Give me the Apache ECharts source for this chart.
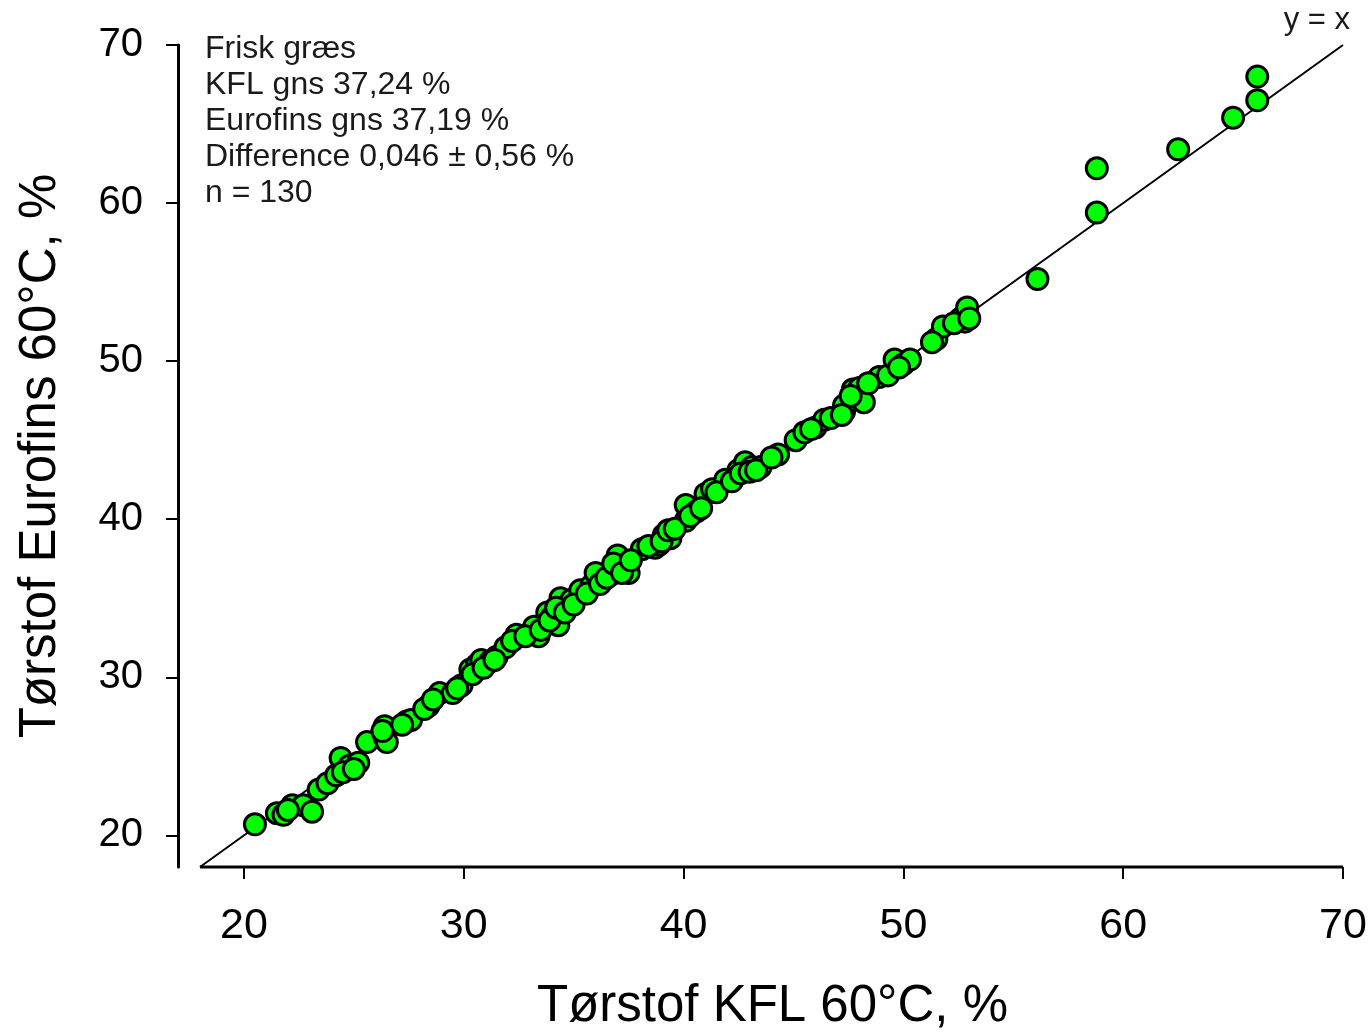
<!DOCTYPE html>
<html>
<head>
<meta charset="utf-8">
<script src="https://cdn.jsdelivr.net/npm/echarts@6/dist/echarts.min.js"></script>
<style>
  html, body { margin: 0; padding: 0; background: #fff; }
  #chart { width: 1370px; height: 1034px; }
</style>
</head>
<body>
<div id="chart"></div>
<script>
// Data: dry matter, KFL (x) vs Eurofins (y), fresh grass
var kfl = [
  20.5, 21.5, 21.8, 22.2, 22.7, 23.1, 23.4, 23.8, 24.2, 24.4,
  24.8, 25.2, 25.6, 26.4, 26.4, 26.5, 27.4, 27.6, 28.4, 28.9,
  29.5, 29.9, 30.3, 30.6, 30.8, 31.2, 31.5, 31.9, 32.4, 33.2,
  33.4, 33.8, 34.0, 34.3, 34.4, 34.9, 35.3, 35.8, 36.0, 36.7,
  37.0, 37.3, 37.5, 38.1, 38.7, 38.9, 39.1, 39.4, 40.1, 40.1,
  40.6, 41.0, 41.3, 41.9, 42.5, 42.8, 43.1, 43.5, 44.3, 45.1,
  45.5, 46.0, 46.4, 47.3, 47.3, 47.7, 48.0, 48.2, 48.9, 49.3,
  49.6, 50.0, 50.3, 51.5, 51.8, 52.6, 52.8, 52.9, 56.1, 58.8,
  58.8, 62.5, 65.0, 66.1, 66.1,
  22.0, 24.5, 25.0, 26.3, 27.2, 28.2, 28.6, 29.7, 30.4, 30.9,
  31.4, 32.2, 32.8, 33.5, 33.9, 34.2, 34.6, 35.0, 35.6, 36.2,
  36.5, 36.8, 37.2, 37.6, 38.4, 39.0, 39.3, 39.6, 40.3, 40.8,
  41.5, 42.2, 42.6, 43.0, 43.3, 44.0, 45.8, 46.7, 47.2, 47.6,
  48.4, 49.8, 51.3, 52.3, 53.0
];
var eurofins = [
  20.7, 21.4, 21.3, 21.9, 21.9, 21.5, 22.9, 23.3, 23.8, 24.9,
  24.4, 24.6, 25.9, 26.2, 26.9, 25.9, 27.2, 27.3, 28.2, 29.0,
  29.0, 29.5, 30.5, 30.8, 31.1, 31.0, 31.3, 31.9, 32.7, 33.2,
  32.6, 34.1, 33.8, 33.3, 35.0, 34.9, 35.5, 35.8, 36.6, 36.5,
  37.7, 37.1, 36.6, 38.1, 38.2, 38.4, 39.0, 38.8, 39.9, 40.9,
  40.5, 41.6, 41.9, 42.5, 43.1, 43.6, 43.3, 43.3, 44.1, 45.0,
  45.5, 45.8, 46.3, 46.8, 47.2, 48.2, 48.3, 47.4, 49.0, 49.1,
  50.1, 49.8, 50.1, 51.4, 52.2, 52.7, 52.5, 53.4, 55.2, 59.4,
  62.2, 63.4, 65.4, 66.5, 68.0,
  21.6, 24.0, 24.2, 26.6, 27.0, 28.0, 28.6, 29.3, 30.2, 30.6,
  31.1, 32.3, 32.6, 33.0, 33.6, 34.4, 34.1, 34.6, 35.3, 35.9,
  36.3, 37.2, 36.6, 37.4, 38.3, 38.6, 39.3, 39.4, 40.2, 40.7,
  41.7, 42.4, 42.9, 43.0, 43.1, 43.9, 45.7, 46.4, 46.6, 47.8,
  48.6, 49.6, 51.2, 52.4, 52.7
];
var tickValues = [20, 30, 40, 50, 60, 70];
var xRange = [17, 70];
var yRange = [18, 70];
var notes = [
  'Frisk græs',
  'KFL gns 37,24 %',
  'Eurofins gns 37,19 %',
  'Difference 0,046 ± 0,56 %',
  'n = 130'
];

var points = [];
for (var i = 0; i < kfl.length; i++) {
  points.push([kfl[i], eurofins[i]]);
}

var font = 'Arial, "Liberation Sans", sans-serif';

var chart = echarts.init(document.getElementById('chart'));
chart.setOption({
  backgroundColor: '#ffffff',
  animation: false,
  grid: { left: 178, right: 27, top: 45, bottom: 167, containLabel: false, outerBoundsMode: 'none' },
  xAxis: {
    type: 'value',
    min: xRange[0],
    max: xRange[1],
    name: 'Tørstof KFL 60°C, %',
    nameLocation: 'middle',
    nameGap: 114,
    nameTextStyle: { fontSize: 51, color: '#000', fontFamily: font, padding: [0, 0, 0, 24] },
    axisLine: { show: false },
    axisTick: { show: true, length: 12, customValues: tickValues,
      lineStyle: { color: '#000', width: 2 } },
    axisLabel: { customValues: tickValues, fontSize: 43, color: '#000',
      fontFamily: font, margin: 38 },
    splitLine: { show: false }
  },
  yAxis: {
    type: 'value',
    min: yRange[0],
    max: yRange[1],
    name: 'Tørstof Eurofins 60°C, %',
    nameLocation: 'middle',
    nameGap: 112,
    nameTextStyle: { fontSize: 51, color: '#000', fontFamily: font },
    axisLine: { show: true, onZero: false, lineStyle: { color: '#000', width: 3 } },
    axisTick: { show: true, length: 12, customValues: tickValues,
      lineStyle: { color: '#000', width: 2 } },
    axisLabel: { customValues: tickValues, fontSize: 40, color: '#000',
      fontFamily: font, margin: 35 },
    splitLine: { show: false }
  },
  graphic: [
    {
      type: 'text',
      left: 205,
      top: 31,
      style: {
        text: notes.join('\n'),
        fontSize: 32,
        lineHeight: 36,
        fontFamily: font,
        fill: '#1a1a1a'
      }
    },
    {
      type: 'text',
      right: 20,
      top: 5,
      style: {
        text: 'y = x',
        fontSize: 31,
        fontFamily: font,
        fill: '#1a1a1a'
      }
    }
  ],
  series: [
    {
      // bottom axis line, starts at 18 like the y axis
      type: 'line',
      data: [[yRange[0], yRange[0]], [xRange[1], yRange[0]]],
      symbol: 'none',
      clip: false,
      silent: true,
      z: 1,
      lineStyle: { color: '#000', width: 3 }
    },
    {
      // y = x reference
      type: 'line',
      data: [[yRange[0], yRange[0]], [yRange[1], yRange[1]]],
      symbol: 'none',
      clip: false,
      silent: true,
      z: 1,
      lineStyle: { color: '#000', width: 2 }
    },
    {
      type: 'scatter',
      data: points,
      symbol: 'circle',
      symbolSize: 21,
      z: 3,
      itemStyle: { color: '#00ff00', borderColor: '#000', borderWidth: 3, opacity: 1 }
    }
  ]
});
</script>
</body>
</html>
